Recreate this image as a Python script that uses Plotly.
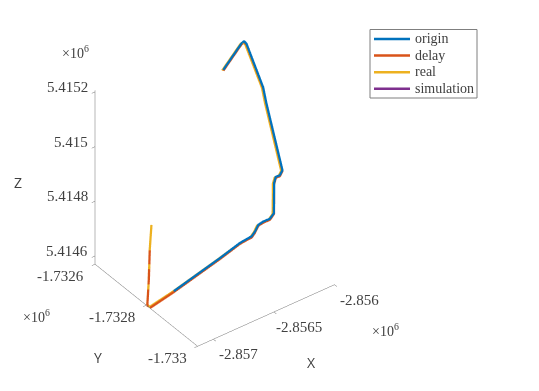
import plotly.graph_objects as go

origin_x = [-2856100, -2856013, -2856013, -2856014, -2856015, -2856015, -2856019, -2856047, -2856080, -2856094,
            -2856094, -2856096, -2856129, -2856184, -2856225, -2856252, -2856279, -2856375, -2856539, -2856922]
origin_y = [-1732614, -1732644, -1732654, -1732664, -1732729, -1732742, -1732806, -1732809, -1732809, -1732809,
            -1732809, -1732809, -1732809, -1732809, -1732809, -1732809, -1732809, -1732809, -1732809, -1732809]
origin_z = [5415086, 5415188, 5415203, 5415201, 5415092, 5415042, 5414847, 5414836, 5414837, 5414817,
            5414791, 5414707, 5414693, 5414694, 5414690, 5414671, 5414659, 5414654, 5414632, 5414587]

delay_x = [-2856091, -2856004, -2856004, -2856005, -2856006, -2856006, -2856010, -2856038, -2856071, -2856085,
           -2856085, -2856087, -2856120, -2856175, -2856216, -2856243, -2856270, -2856366, -2856530, -2856913,
           -2857120, -2857128, -2857116, -2857108]
delay_y = [-1732610, -1732640, -1732650, -1732660, -1732725, -1732738, -1732802, -1732805, -1732805, -1732805,
           -1732805, -1732805, -1732805, -1732805, -1732805, -1732805, -1732805, -1732805, -1732805, -1732805,
           -1732813, -1732803, -1732803, -1732803]
delay_z = [5415078, 5415180, 5415195, 5415193, 5415084, 5415034, 5414839, 5414828, 5414829, 5414809,
           5414783, 5414699, 5414685, 5414686, 5414682, 5414663, 5414651, 5414646, 5414624, 5414579,
           5414570, 5414570, 5414661, 5414768]

real_x = [-2856095, -2856008, -2856008, -2856009, -2856010, -2856010, -2856014, -2856042, -2856075, -2856089,
          -2856089, -2856091, -2856124, -2856179, -2856220, -2856247, -2856274, -2856370, -2856534, -2856917,
          -2857124, -2857122, -2857115, -2857128, -2857111, -2857108, -2857121, -2857105, -2857102, -2857094]
real_y = [-1732607, -1732637, -1732647, -1732657, -1732722, -1732735, -1732799, -1732802, -1732802, -1732802,
          -1732802, -1732802, -1732802, -1732802, -1732802, -1732802, -1732802, -1732802, -1732802, -1732802,
          -1732810, -1732800, -1732800, -1732807, -1732800, -1732800, -1732807, -1732800, -1732800, -1732803]
real_z = [5415077, 5415179, 5415194, 5415192, 5415083, 5415033, 5414838, 5414827, 5414828, 5414808,
          5414782, 5414698, 5414684, 5414685, 5414681, 5414662, 5414650, 5414645, 5414623, 5414578,
          5414570, 5414571, 5414618, 5414642, 5414648, 5414691, 5414715, 5414721, 5414764, 5414859]

simulation_x = [-2856079, -2856112, -2856167, -2856208, -2856233, -2856260, -2856358, -2856522, -2856905]
simulation_y = [-1732799, -1732799, -1732799, -1732799, -1732800, -1732800, -1732799, -1732799, -1732799]
simulation_z = [5414695, 5414681, 5414682, 5414678, 5414656, 5414644, 5414642, 5414620, 5414575]

x_ticks = [-2857000, -2856500, -2856000]
x_labels = ["-2.857", "-2.8565", "-2.856"]
y_ticks = [-1733000, -1732800, -1732600]
y_labels = ["-1.733", "-1.7328", "-1.7326"]
z_ticks = [5414600, 5414800, 5415000, 5415200]
z_labels = ["5.4146", "5.4148", "5.415", "5.4152"]

x_range = [-2857130, -2856000]
y_range = [-1733000, -1732600]
z_range = [5414570, 5415205]

SERIF = "Liberation Serif"
SANS = "Open Sans"
AXIS = "#707070"
TEXT = "#404040"
COLORS = ["#0072BD", "#D95319", "#EDB120", "#7E2F8E"]
NAMES = ["origin", "delay", "real", "simulation"]

fig = go.Figure()
series = [
    (origin_x, origin_y, origin_z),
    (delay_x, delay_y, delay_z),
    (real_x, real_y, real_z),
    (simulation_x, simulation_y, simulation_z),
]
for name, (xs, ys, zs), color in zip(NAMES, series, COLORS):
    fig.add_trace(go.Scatter3d(x=xs, y=ys, z=zs, mode="lines", name=name, showlegend=False,
                               line=dict(color=color, width=4.5)))


def axis(rng, ticks):
    return dict(range=rng, tickvals=ticks, showticklabels=False, title=dict(text=""),
                showbackground=False, showgrid=False, zeroline=False, showspikes=False,
                showline=True, linecolor=AXIS, linewidth=1, ticks="outside", ticklen=4,
                tickcolor=AXIS, tickwidth=1)


def note(text, px, py, family=SERIF, size=14, anchor="center"):
    return dict(text=text, x=px / 539, y=1 - py / 391, xref="paper", yref="paper", showarrow=False,
                xanchor=anchor, yanchor="middle", font=dict(family=family, size=size, color=TEXT))


tick_notes = []
for v, t in zip(x_ticks, x_labels):
    tick_notes.append(dict(x=v, y=y_range[0], z=z_range[0], text=t, showarrow=False, xanchor="center",
                           yanchor="middle", xshift=25, yshift=-15, font=dict(family=SERIF, size=15, color=TEXT)))
for v, t in zip(y_ticks, y_labels):
    tick_notes.append(dict(x=x_range[0], y=v, z=z_range[0], text=t, showarrow=False, xanchor="right",
                           yanchor="middle", xshift=-9, yshift=-12, font=dict(family=SERIF, size=15, color=TEXT)))
for v, t in zip(z_ticks, z_labels):
    tick_notes.append(dict(x=x_range[0], y=y_range[1], z=v, text=t, showarrow=False, xanchor="right",
                           yanchor="middle", xshift=-5, yshift=5, font=dict(family=SERIF, size=15, color=TEXT)))

# legend keys, the native legend rows are too tall for this box
shapes = [dict(type="rect", xref="paper", yref="paper", x0=370 / 539, x1=477 / 539, y0=1 - 29.5 / 391, y1=1 - 98 / 391,
               line=dict(color="#7f7f7f", width=1), fillcolor="white")]
legend_notes = []
for i, (name, color) in enumerate(zip(NAMES, COLORS)):
    py = 39 + i * 16.6
    shapes.append(dict(type="line", xref="paper", yref="paper", x0=374 / 539, x1=410 / 539, y0=1 - py / 391, y1=1 - py / 391,
                       line=dict(color=color, width=2.5)))
    legend_notes.append(note(name, 413, py - 0.5, size=14, anchor="left"))

k = 3.0
s = 0.28
cz = -0.05
fig.update_layout(
    width=539, height=391, autosize=False,
    margin=dict(l=0, r=0, t=0, b=0),
    paper_bgcolor="white",
    showlegend=False,
    shapes=shapes,
    scene=dict(
        domain=dict(x=[0, 1], y=[0, 1]),
        xaxis=axis(x_range, x_ticks),
        yaxis=axis(y_range, y_ticks),
        zaxis=axis(z_range, z_ticks),
        aspectmode="manual",
        aspectratio=dict(x=0.875, y=0.875, z=1.11),
        annotations=tick_notes,
        camera=dict(projection=dict(type="orthographic"), up=dict(x=0, y=0, z=1),
                    center=dict(x=0.8 * s, y=-0.6 * s, z=cz),
                    eye=dict(x=-0.48 * k + 0.8 * s, y=-0.64 * k - 0.6 * s, z=0.6 * k + cz)),
    ),
    annotations=[
        note("×10<sup>6</sup>", 75, 52),
        note("×10<sup>6</sup>", 36, 316),
        note("×10<sup>6</sup>", 385, 330),
        note("X", 311, 362, SANS),
        note("Y", 98, 357, SANS),
        note("Z", 18, 182, SANS),
    ] + legend_notes,
)

fig.write_html("out.html", config={"displayModeBar": False}, post_script="document.body.style.margin = '0';")
